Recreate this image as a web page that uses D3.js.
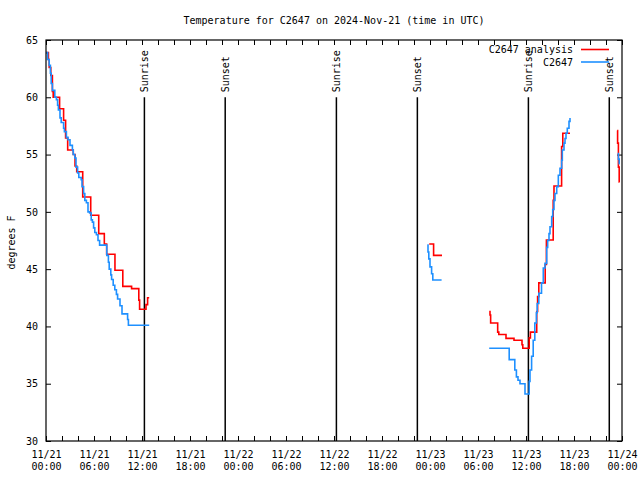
<!DOCTYPE html>
<html><head><meta charset="utf-8">
<script src="https://cdn.jsdelivr.net/npm/d3@7"></script>
<style>body{margin:0;background:#fff}svg{display:block}text{font-family:"DejaVu Sans Mono",monospace;font-size:10px;fill:#000}</style>
</head><body>
<script>
const titleText = "Temperature for C2647 on 2024-Nov-21 (time in UTC)";
const yLabelText = "degrees F";
const startUTC = Date.UTC(2024, 10, 21);
const endUTC = Date.UTC(2024, 10, 24);
const yTicks = [30, 35, 40, 45, 50, 55, 60, 65];
const xTickLabels = [["11/21","00:00"],["11/21","06:00"],["11/21","12:00"],["11/21","18:00"],["11/22","00:00"],["11/22","06:00"],["11/22","12:00"],["11/22","18:00"],["11/23","00:00"],["11/23","06:00"],["11/23","12:00"],["11/23","18:00"],["11/24","00:00"]];
const seriesNames = ["C2647 analysis", "C2647"];
const eventNames = ["Sunrise","Sunset","Sunrise","Sunset","Sunrise","Sunset"];
const eventHours = [12.3, 22.4, 36.3, 46.42, 60.3, 70.41];
const eventTop = 60;
// hours since 2024-11-21 00:00 UTC, temperature F; null = gap
const analysisSeries = [
 [0.0,63.9],[0.3,63.3],[0.4,62.6],[0.6,61.9],[0.8,60.5],[0.9,60.0],[1.7,59.0],[2.2,58.0],[2.45,56.45],[2.71,55.4],[3.41,55.0],[3.63,54.0],[3.84,53.5],[4.59,51.3],[5.59,49.7],[6.59,48.1],[7.29,47.2],[7.58,46.3],[8.62,44.9],[9.6,43.5],[10.7,43.3],[11.6,42.3],[11.7,41.5],[12.5,41.9],[12.7,42.5],[12.9,42.5],
 null,
 [47.9,47.2],[48.45,46.2],[49.5,46.2],
 null,
 [55.4,41.3],[55.5,41.0],[55.58,40.3],[56.46,39.5],[56.6,39.3],[57.5,38.96],[58.5,38.8],[59.5,38.4],[59.6,38.1],[60.4,39.0],[60.55,39.5],[61.34,41.3],[61.45,42.6],[61.6,43.8],[62.4,45.4],[62.55,47.55],[63.4,51.0],[63.5,52.26],[64.45,55.7],[64.6,56.86],[65.5,56.86],
 null,
 [71.4,57.1],[71.45,56.0],[71.55,53.9],[71.65,52.6],[71.7,52.6]
];
const stationSeries = [
 [0.0,63.9],[0.2,63.3],[0.4,62.8],[0.55,62.1],[0.65,61.2],[0.8,60.6],[1.1,60.0],[1.3,59.8],[1.45,59.3],[1.55,58.9],[1.75,58.2],[1.9,57.8],[2.2,57.3],[2.3,57.0],[2.55,56.5],[2.75,56.3],[3.0,55.8],[3.3,55.4],[3.4,55.0],[3.6,54.7],[3.75,53.9],[3.95,53.4],[4.1,53.0],[4.4,52.8],[4.5,52.2],[4.7,51.6],[4.85,51.0],[5.05,50.8],[5.25,50.0],[5.45,49.9],[5.65,49.3],[5.8,49.1],[5.95,48.6],[6.1,48.2],[6.3,48.0],[6.5,47.5],[6.7,47.1],[7.6,46.2],[7.8,45.6],[7.9,45.0],[8.1,44.5],[8.2,44.1],[8.4,43.6],[8.6,43.2],[8.8,42.8],[8.95,42.4],[9.25,41.8],[9.5,41.1],[10.2,40.6],[10.3,40.1],[12.9,40.1],
 null,
 [47.66,47.1],[47.75,46.5],[47.85,45.9],[48.0,45.2],[48.2,44.6],[48.35,44.05],[49.45,44.05],
 null,
 [55.4,38.1],[57.9,37.1],[58.6,36.2],[58.8,35.6],[59.0,35.3],[59.25,35.0],[59.875,34.1],[60.4,35.2],[60.5,36.2],[60.7,37.4],[60.9,38.8],[61.1,40.3],[61.3,41.2],[61.4,42.0],[61.6,42.9],[61.94,43.8],[62.16,45.1],[62.375,45.5],[62.59,46.9],[62.71,47.5],[62.875,48.1],[63.0,48.7],[63.21,49.6],[63.34,50.2],[63.5,51.0],[63.625,51.6],[63.84,52.2],[64.04,53.2],[64.25,53.8],[64.46,54.5],[64.54,55.4],[64.75,56.0],[64.875,56.4],[65.0,56.86],[65.16,57.3],[65.375,57.9],[65.5,58.2],
 null,
 [71.45,55.1],[71.55,54.6],[71.65,54.2],[71.7,54.2]
];
const seriesColors = ["#ff0000", "#1e90ff"];

const W = 640, H = 480;
const M = {left: 46, right: 18, top: 40, bottom: 39};
const svg = d3.select("body").append("svg").attr("width", W).attr("height", H);
const x = d3.scaleUtc().domain([new Date(startUTC), new Date(endUTC)]).range([M.left, W - M.right]);
const y = d3.scaleLinear().domain([30, 65]).range([H - M.bottom, M.top]);
const hr = h => new Date(startUTC + h * 3600000);

const majorX = d3.range(0, 73, 6).map(hr);
const minorX = d3.range(0, 73, 2).map(hr);

// axes
const gB = svg.append("g").attr("transform", `translate(0,${H - M.bottom})`)
  .call(d3.axisBottom(x).tickValues(minorX).tickSize(-5).tickSizeOuter(0).tickFormat(""));
const gBL = svg.append("g").attr("transform", `translate(0,${H - M.bottom})`)
  .call(d3.axisBottom(x).tickValues(majorX).tickSize(-5).tickSizeOuter(0).tickFormat((d, i) => i));
gBL.selectAll(".tick text").each(function(d, i) {
  const t = d3.select(this).text("").attr("y", 0).attr("dy", null);
  t.append("tspan").attr("x", 0).attr("y", 17).text(xTickLabels[i][0]);
  t.append("tspan").attr("x", 0).attr("y", 29).text(xTickLabels[i][1]);
});
const gT = svg.append("g").attr("transform", `translate(0,${M.top})`)
  .call(d3.axisTop(x).tickValues(minorX).tickSize(-5).tickSizeOuter(0).tickFormat(""));
const gL = svg.append("g").attr("transform", `translate(${M.left},0)`)
  .call(d3.axisLeft(y).tickValues(yTicks).tickSize(-5).tickSizeOuter(0).tickPadding(8));
const gR = svg.append("g").attr("transform", `translate(${W - M.right},0)`)
  .call(d3.axisRight(y).tickValues(yTicks).tickSize(-5).tickSizeOuter(0).tickFormat(""));
svg.selectAll(".domain").remove();
svg.selectAll(".tick line").attr("stroke", "#000").attr("stroke-width", 1);
svg.selectAll(".tick text").attr("font-family", "DejaVu Sans Mono").attr("font-size", 10).attr("fill", "#000");

// sunrise/sunset markers
eventHours.forEach((h, i) => {
  svg.append("line").attr("x1", x(hr(h))).attr("x2", x(hr(h)))
    .attr("y1", y(eventTop)).attr("y2", y(30)).attr("stroke", "#000").attr("stroke-width", 1.5);
  svg.append("text").attr("transform", `translate(${x(hr(h))},${y(eventTop) - 5}) rotate(-90)`)
    .attr("dominant-baseline", "central").attr("text-anchor", "start").text(eventNames[i]);
});

// series
const line = d3.line().defined(d => d !== null).x(d => x(hr(d[0]))).y(d => y(d[1])).curve(d3.curveStepAfter);
[analysisSeries, stationSeries].forEach((s, i) => {
  svg.append("path").datum(s).attr("d", line).attr("fill", "none")
    .attr("stroke", seriesColors[i]).attr("stroke-width", 1.6);
});

// border
svg.append("rect").attr("x", M.left).attr("y", M.top).attr("width", W - M.left - M.right)
  .attr("height", H - M.top - M.bottom).attr("fill", "none").attr("stroke", "#000").attr("stroke-width", 1.2);

// legend
seriesNames.forEach((n, i) => {
  const ly = 49.5 + i * 12.5;
  svg.append("text").attr("x", 573).attr("y", ly).attr("dominant-baseline", "central").attr("text-anchor", "end").text(n);
  svg.append("line").attr("x1", 581).attr("x2", 609).attr("y1", ly).attr("y2", ly)
    .attr("stroke", seriesColors[i]).attr("stroke-width", 1.6);
});

// title & y label
svg.append("text").attr("x", (M.left + W - M.right) / 2).attr("y", 23.5).attr("text-anchor", "middle").text(titleText);
svg.append("text").attr("transform", `translate(11,${(M.top + H - M.bottom) / 2 + 2}) rotate(-90)`)
  .attr("text-anchor", "middle").attr("dominant-baseline", "central").text(yLabelText);
</script>
</body></html>
